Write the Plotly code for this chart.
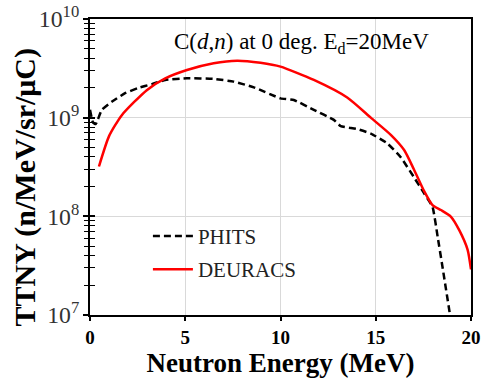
import plotly.graph_objects as go

# PHITS (dashed black)
phits_e = [0.0, 0.15, 0.3, 0.62, 1.14, 1.84, 2.53, 3.25, 3.95, 5.09, 6.49, 7.54, 8.6, 10.0,
           10.7, 11.75, 12.8, 13.16, 14.0, 14.74, 15.6, 16.3, 17.0, 17.54, 17.98, 18.25, 18.5, 18.9]
phits_y = [1.2e9, 9.0e8, 8.6e8, 1.2e9, 1.45e9, 1.77e9, 2.0e9, 2.19e9, 2.41e9, 2.51e9, 2.47e9,
           2.32e9, 2.03e9, 1.57e9, 1.51e9, 1.2e9, 9.5e8, 8.2e8, 7.7e8, 6.9e8, 5.5e8, 4.0e8, 2.5e8,
           1.71e8, 1.25e8, 6.2e7, 3.1e7, 1.0e7]

# DEURACS (solid red)
deur_e = [0.47, 1.0, 1.67, 2.98, 3.95, 5.09, 6.49, 7.72, 8.95, 10.0, 11.75, 13.5, 14.74, 15.79,
          16.49, 17.0, 17.54, 17.98, 18.42, 18.95, 19.39, 19.82, 20.0]
deur_y = [3.2e8, 6.5e8, 1.06e9, 1.9e9, 2.5e9, 3.04e9, 3.56e9, 3.78e9, 3.6e9, 3.29e9, 2.41e9,
          1.6e9, 1.0e9, 6.7e8, 4.7e8, 3.0e8, 1.8e8, 1.3e8, 1.16e8, 9.9e7, 7.2e7, 4.6e7, 2.9e7]

x_ticks = [0, 5, 10, 15, 20]

SERIF = "Liberation Serif, Times New Roman, DejaVu Serif, serif"

fig = go.Figure()
fig.add_trace(go.Scatter(x=phits_e, y=phits_y, mode="lines", name="PHITS", legendgroup="a",
                         line=dict(color="black", width=2.5, dash="7px,4px", shape="spline", smoothing=0.4)))
fig.add_trace(go.Scatter(x=deur_e, y=deur_y, mode="lines", name="DEURACS", legendgroup="b",
                         line=dict(color="#ff0000", width=2.5, shape="spline", smoothing=0.6)))
fig.add_trace(go.Scatter(x=[0], y=[1e8], yaxis="y2", mode="markers", marker=dict(opacity=0),
                         showlegend=False, hoverinfo="skip"))

fig.update_layout(
    width=481, height=383,
    margin=dict(l=90, r=10, t=19, b=68, autoexpand=False),
    paper_bgcolor="white", plot_bgcolor="white",
    font=dict(family=SERIF, color="black"),
    xaxis=dict(range=[0, 20], tickvals=x_ticks, showgrid=True, gridcolor="#d9d9d9", gridwidth=1,
               showline=True, linecolor="black", linewidth=2, mirror=True, automargin=False,
               ticks="outside", ticklen=4, tickcolor="black", tickwidth=1.5,
               tickfont=dict(family=SERIF, size=19, color="black", weight="bold"),
               title=dict(text="<b>Neutron Energy (MeV)</b>", font=dict(size=27, family=SERIF), standoff=2),
               zeroline=False),
    yaxis=dict(type="log", range=[7, 10], dtick=1, exponentformat="power", showgrid=True,
               gridcolor="#d9d9d9", gridwidth=1, showline=True, linecolor="black", linewidth=2, mirror=True,
               automargin=False,
               ticks="outside", ticklen=5, tickcolor="black", tickwidth=1.5,
               minor=dict(dtick="D1", ticks="outside", ticklen=4, tickcolor="black", tickwidth=1, showgrid=False),
               tickfont=dict(family=SERIF, size=19, color="#333333"),
               zeroline=False),
    yaxis2=dict(type="log", range=[7, 10], dtick=1, overlaying="y", side="left", showgrid=False,
                ticks="inside", ticklen=5, tickcolor="black", tickwidth=1.5, showticklabels=False,
                minor=dict(dtick="D1", ticks="inside", ticklen=5, tickcolor="black", tickwidth=1, showgrid=False),
                showline=False, zeroline=False, automargin=False),
    legend=dict(x=0.152, y=0.335, xanchor="left", yanchor="top", bgcolor="rgba(0,0,0,0)",
                font=dict(family=SERIF, size=21, color="#222222"),
                traceorder="grouped", tracegroupgap=3, itemwidth=40),
    showlegend=True,
    annotations=[
        dict(text="C(<i>d</i>,<i>n</i>) at 0 deg. E<sub>d</sub>=20MeV", xref="paper", yref="paper",
             x=0.554, y=0.919, xanchor="center", yanchor="middle", showarrow=False,
             font=dict(family=SERIF, size=23, color="black")),
        dict(text="<b>TTNY (n/MeV/sr/μC)</b>", xref="paper", yref="paper",
             x=-0.1706, y=0.431, xanchor="center", yanchor="middle", showarrow=False, textangle=-90,
             font=dict(family=SERIF, size=30, color="black")),
    ],
)

fig.write_html("out.html")
